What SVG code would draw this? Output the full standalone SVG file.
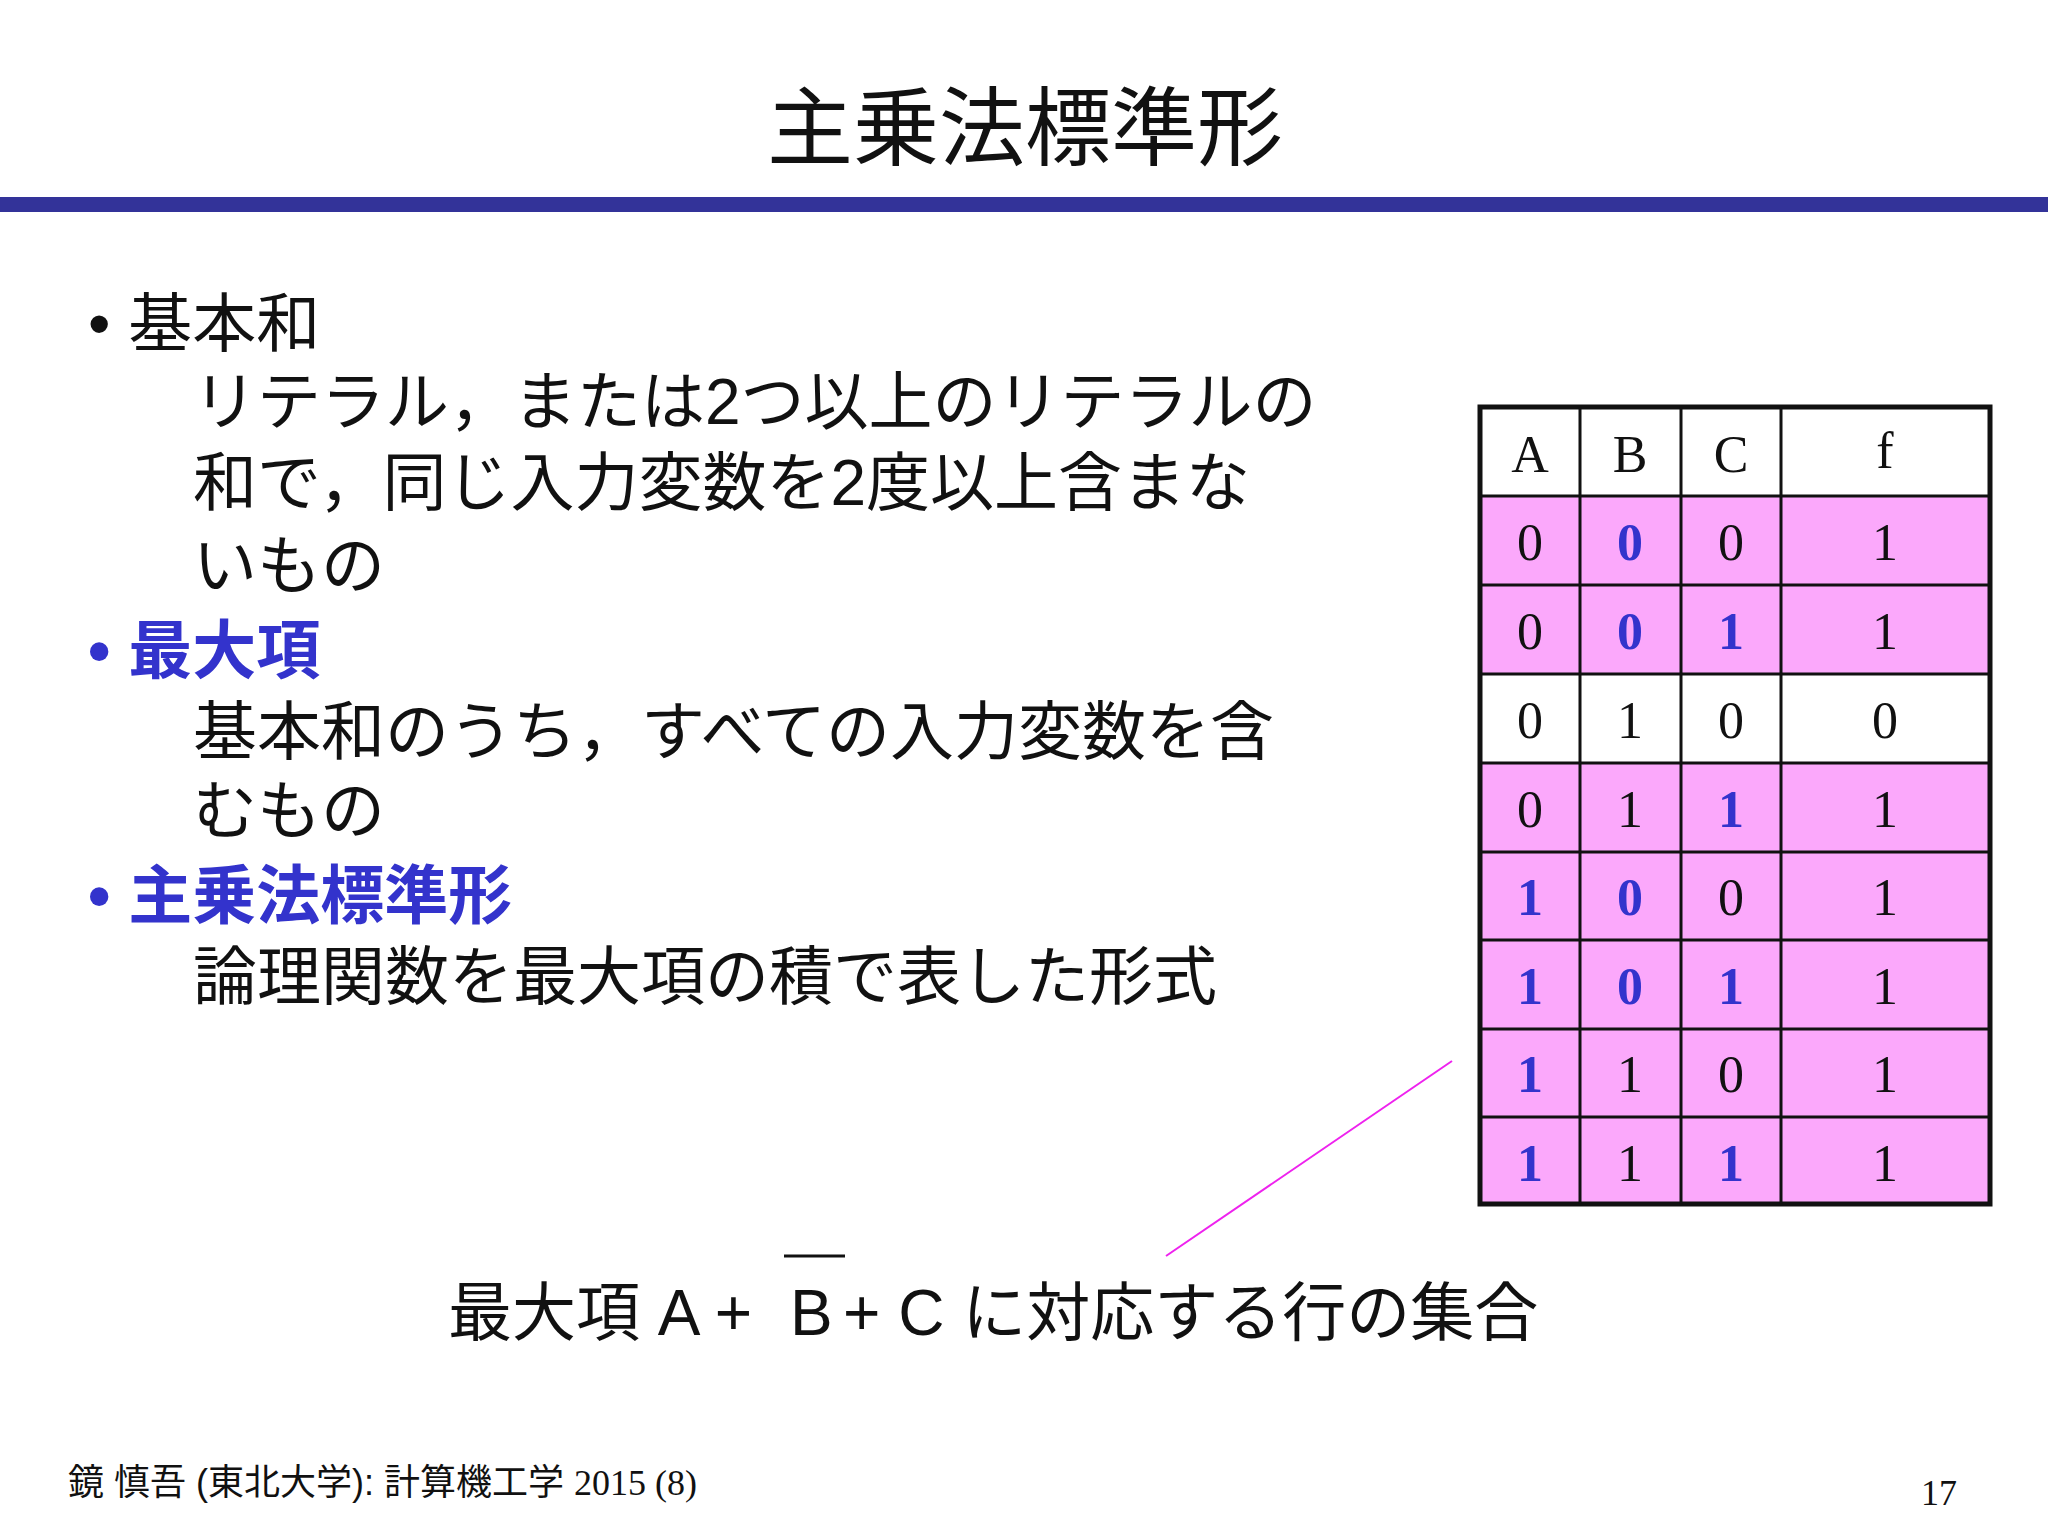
<svg xmlns="http://www.w3.org/2000/svg" width="2048" height="1536" viewBox="0 0 2048 1536">
<style>
.jp{font-family:"Liberation Sans","Noto Sans CJK JP",sans-serif;fill:#111}
.b{fill:#3333cc}
.n{font-family:"Liberation Serif",serif;font-size:52px;text-anchor:middle;fill:#111}
.nb{font-weight:bold;fill:#3333cc}
.pk{fill:#fba8fb}
.g{stroke:#111;stroke-width:3;fill:none}
</style>
<rect width="2048" height="1536" fill="#fff"/>
<g id="title"><text class="jp" x="1025" y="159" font-size="86" text-anchor="middle">主乗法標準形</text>
<rect x="0" y="197" width="2048" height="15" fill="#333399"/></g>
<g id="bullets" class="jp" font-size="64">
<text x="88" y="346">• 基本和</text>
<text x="193" y="424">リテラル，または2つ以上のリテラルの</text>
<text x="193" y="505">和で，同じ入力変数を2度以上含まな</text>
<text x="193" y="588">いもの</text>
<text x="88" y="673" class="b" font-weight="bold">• 最大項</text>
<text x="193" y="754">基本和のうち，すべての入力変数を含</text>
<text x="193" y="833">むもの</text>
<text x="88" y="918" class="b" font-weight="bold">• 主乗法標準形</text>
<text x="193" y="999">論理関数を最大項の積で表した形式</text>
</g>
<g id="table">
<rect class="pk" x="1480" y="496" width="510" height="178"/>
<rect class="pk" x="1480" y="763" width="510" height="441"/>
<g class="g">
<rect x="1480" y="407" width="510" height="797" stroke-width="5"/>
<line x1="1580" y1="407" x2="1580" y2="1204"/><line x1="1681" y1="407" x2="1681" y2="1204"/><line x1="1781" y1="407" x2="1781" y2="1204"/>
<line x1="1480" y1="496" x2="1990" y2="496"/><line x1="1480" y1="585" x2="1990" y2="585"/><line x1="1480" y1="674" x2="1990" y2="674"/><line x1="1480" y1="763" x2="1990" y2="763"/><line x1="1480" y1="852" x2="1990" y2="852"/><line x1="1480" y1="940" x2="1990" y2="940"/><line x1="1480" y1="1029" x2="1990" y2="1029"/><line x1="1480" y1="1117" x2="1990" y2="1117"/>
</g>
<g class="n">
<text x="1530" y="472">A</text><text x="1630" y="472">B</text><text x="1731" y="472">C</text><text x="1885" y="468">f</text>
<text x="1530" y="560">0</text><text x="1630" y="560" class="nb">0</text><text x="1731" y="560">0</text><text x="1885" y="560">1</text>
<text x="1530" y="649">0</text><text x="1630" y="649" class="nb">0</text><text x="1731" y="649" class="nb">1</text><text x="1885" y="649">1</text>
<text x="1530" y="738">0</text><text x="1630" y="738">1</text><text x="1731" y="738">0</text><text x="1885" y="738">0</text>
<text x="1530" y="827">0</text><text x="1630" y="827">1</text><text x="1731" y="827" class="nb">1</text><text x="1885" y="827">1</text>
<text x="1530" y="915" class="nb">1</text><text x="1630" y="915" class="nb">0</text><text x="1731" y="915">0</text><text x="1885" y="915">1</text>
<text x="1530" y="1004" class="nb">1</text><text x="1630" y="1004" class="nb">0</text><text x="1731" y="1004" class="nb">1</text><text x="1885" y="1004">1</text>
<text x="1530" y="1092" class="nb">1</text><text x="1630" y="1092">1</text><text x="1731" y="1092">0</text><text x="1885" y="1092">1</text>
<text x="1530" y="1181" class="nb">1</text><text x="1630" y="1181">1</text><text x="1731" y="1181" class="nb">1</text><text x="1885" y="1181">1</text>
</g></g>
<g id="connectors"><line x1="1452" y1="1061" x2="1166" y2="1256" stroke="#ee22ee" stroke-width="2"/></g>
<g id="caption" class="jp" font-size="64">
<text x="448" y="1335">最大項 A + </text>
<text x="790" y="1335">B</text>
<line x1="784" y1="1256" x2="845" y2="1256" stroke="#111" stroke-width="3"/>
<text x="843" y="1335"> + C に対応する行の集合</text>
</g>
<g id="footer">
<text class="jp" x="68" y="1495" font-size="36">鏡 慎吾 (東北大学): 計算機工学 <tspan font-family="Liberation Serif,serif">2015 (8)</tspan></text>
<text x="1957" y="1505" font-family="Liberation Serif,serif" font-size="36" text-anchor="end" fill="#111">17</text>
</g>
</svg>
